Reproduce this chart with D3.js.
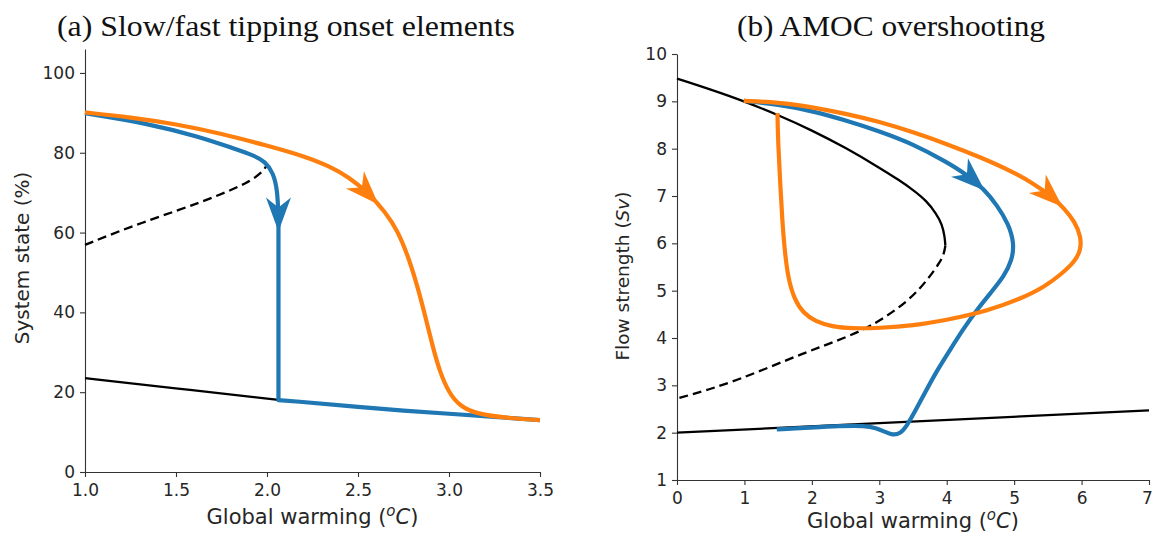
<!DOCTYPE html>
<html><head><meta charset="utf-8">
<script src="https://cdn.jsdelivr.net/npm/d3@7"></script>
<style>body{margin:0;background:#fff}svg{display:block}</style>
</head><body><svg id="c" width="1153" height="533"></svg>
<script>
// ---------- Panel (a): slow / fast tipping onset ----------
const aXTicks = [1.0, 1.5, 2.0, 2.5, 3.0, 3.5];
const aYTicks = [0, 20, 40, 60, 80, 100];
const aUpperBranch = [[1.0,90.0],[1.34,87.4],[1.63,84.0],[1.82,81.1],[1.93,79.2],[1.98,78.0],[2.0,76.9]];
const aUnstableBranch = [[1.0,56.9],[1.25,61.5],[1.52,65.7],[1.74,69.4],[1.89,72.4],[1.97,74.9],[2.0,76.9]];
const aLowerBranch = [[1.0,23.5],[1.5,21.0],[2.063,18.0],[2.18,17.6],[2.5,16.3],[2.75,15.4],[3.0,14.6],[3.25,13.8],[3.5,13.0]];
const aSlowCurved = [[1.0,89.9],[1.34,87.4],[1.63,84.0],[1.815,81.1],[1.925,79.4],[1.99,77.8],[2.035,74.9],[2.057,70.7],[2.063,64.0]];
const aSlowDrop = [[2.063,18.0],[2.18,17.6],[2.5,16.3],[2.75,15.4],[3.0,14.6],[3.25,13.8],[3.5,13.0]];
const aFast = [[1.0,90.1],[1.25,88.9],[1.5,87.2],[1.75,84.8],[2.0,81.8],[2.2,79.2],[2.35,76.5],[2.45,73.8],[2.55,70.2],[2.65,65.2],[2.72,60.3],[2.78,53.5],[2.83,46.0],[2.87,39.0],[2.91,31.5],[2.95,25.0],[3.0,19.8],[3.06,16.5],[3.15,14.6],[3.3,13.6],[3.5,13.0]];
const aSlowArrowTip = [2.063, 61.0];
const aFastArrowTip = [2.604, 67.7];

// ---------- Panel (b): AMOC overshooting ----------
const bXTicks = [0,1,2,3,4,5,6,7];
const bYTicks = [1,2,3,4,5,6,7,8,9,10];
const bUpperBranch = [[0,9.48],[0.5,9.25],[1.0,9.0],[1.5,8.71],[2.0,8.39],[2.5,8.02],[3.0,7.6],[3.3,7.33],[3.5,7.13],[3.7,6.9],[3.85,6.62],[3.93,6.4],[3.97,6.15],[3.98,5.95]];
const bUnstableBranch = [[3.98,5.95],[3.96,5.78],[3.9,5.6],[3.75,5.3],[3.6,5.04],[3.4,4.76],[3.1,4.45],[2.77,4.17],[2.3,3.9],[1.88,3.68],[1.4,3.4],[0.89,3.11],[0.45,2.9],[0,2.72]];
const bLowerBranch = [[0,2.0],[7,2.47]];
const bSlow = [[0.99,9.01],[1.5,8.93],[2.0,8.8],[2.5,8.6],[3.0,8.37],[3.5,8.1],[4.0,7.72],[4.3,7.45],[4.55,7.15],[4.75,6.8],[4.92,6.4],[5.0,6.0],[4.97,5.65],[4.85,5.3],[4.65,4.95],[4.45,4.6],[4.25,4.2],[4.05,3.75],[3.85,3.3],[3.68,2.85],[3.53,2.45],[3.4,2.12],[3.3,1.97],[3.2,1.95],[3.08,2.02],[2.95,2.1],[2.8,2.15],[2.4,2.14],[2.0,2.11],[1.48,2.07]];
const bFast = [[0.99,9.01],[1.5,8.98],[2.0,8.88],[2.5,8.74],[3.0,8.57],[3.5,8.35],[4.0,8.1],[4.5,7.82],[5.0,7.5],[5.3,7.25],[5.55,7.0],[5.75,6.73],[5.9,6.45],[5.99,6.15],[5.99,5.85],[5.89,5.6],[5.7,5.35],[5.45,5.08],[5.1,4.83],[4.6,4.57],[4.0,4.38],[3.5,4.26],[3.0,4.21],[2.6,4.2],[2.3,4.24],[2.05,4.35],[1.87,4.53],[1.74,4.82],[1.65,5.25],[1.6,5.8],[1.56,6.5],[1.53,7.3],[1.5,8.1],[1.49,8.75]];
const bSlowArrowTip = [4.54, 7.18];
const bFastArrowTip = [5.70, 6.84];

const titles = ["(a) Slow/fast tipping onset elements", "(b) AMOC overshooting"];

const BLUE = "#1f77b4", ORANGE = "#ff7f0e";
const svg = d3.select("#c");
const TICKFONT = "DejaVu Sans";

function styleAxis(g){
  g.select(".domain").attr("stroke","#333").attr("stroke-width",1.1);
  g.selectAll(".tick line").attr("stroke","#333").attr("stroke-width",1.1);
  g.selectAll(".tick text").attr("fill","#262626").attr("font-family",TICKFONT).attr("font-size",17);
}

function arrowAt(g, node, tip, color){
  const total = node.getTotalLength();
  let best = 0, bd = Infinity;
  for (let l = 0; l <= total; l += 0.5){
    const p = node.getPointAtLength(l);
    const d = (p.x-tip[0])**2 + (p.y-tip[1])**2;
    if (d < bd){ bd = d; best = l; }
  }
  const p1 = node.getPointAtLength(best), p0 = node.getPointAtLength(Math.max(0,best-10));
  const ang = Math.atan2(p1.y-p0.y, p1.x-p0.x)*180/Math.PI;
  g.append("path").attr("d","M3,0L-31,-12.5L-21,0L-31,12.5Z")
    .attr("transform",`translate(${p1.x},${p1.y}) rotate(${ang})`).attr("fill",color);
}

function xLabel(g, cx, y){
  const t = g.append("text").attr("x",cx).attr("y",y).attr("text-anchor","middle")
    .attr("font-family","DejaVu Sans").attr("font-size",21).attr("fill","#262626");
  t.append("tspan").text("Global warming (");
  t.append("tspan").attr("font-style","italic").attr("font-size",15).attr("dy",-8).text("o");
  t.append("tspan").attr("font-style","italic").attr("dy",8).text("C");
  t.append("tspan").text(")");
}

// ----- Panel A -----
const xA = d3.scaleLinear().domain([1.0,3.5]).range([85,540]);
const yA = d3.scaleLinear().domain([0,106]).range([472,49]);
const gA = svg.append("g");
const lineA = d3.line().x(d=>xA(d[0])).y(d=>yA(d[1])).curve(d3.curveBasis);

gA.append("g").attr("transform","translate(0,472)")
  .call(d3.axisBottom(xA).tickValues(aXTicks).tickFormat(d3.format(".1f")).tickSize(5).tickSizeOuter(0).tickPadding(7))
  .call(styleAxis);
gA.append("g").attr("transform","translate(85,0)")
  .call(d3.axisLeft(yA).tickValues(aYTicks).tickSize(5).tickSizeOuter(0).tickPadding(5))
  .call(styleAxis);

gA.append("path").attr("d",lineA(aLowerBranch)).attr("fill","none").attr("stroke","#000").attr("stroke-width",2.3);
gA.append("path").attr("d",lineA(aUpperBranch)).attr("fill","none").attr("stroke","#000").attr("stroke-width",2.3);
gA.append("path").attr("d",lineA(aUnstableBranch)).attr("fill","none").attr("stroke","#000").attr("stroke-width",2.3).attr("stroke-dasharray","9,5");
const slowPathA = gA.append("path")
  .attr("d", lineA(aSlowCurved) + aSlowDrop.map(d=>"L"+xA(d[0])+","+yA(d[1])).join(""))
  .attr("fill","none").attr("stroke",BLUE).attr("stroke-width",4.2).attr("stroke-linejoin","round");
const fastPathA = gA.append("path").attr("d",lineA(aFast)).attr("fill","none").attr("stroke",ORANGE).attr("stroke-width",4.2);
arrowAt(gA, slowPathA.node(), [xA(aSlowArrowTip[0]), yA(aSlowArrowTip[1])], BLUE);
arrowAt(gA, fastPathA.node(), [xA(aFastArrowTip[0]), yA(aFastArrowTip[1])], ORANGE);

gA.append("text").attr("transform","translate(29,258) rotate(-90)").attr("text-anchor","middle")
  .attr("font-family","DejaVu Sans").attr("font-size",20).attr("fill","#262626").text("System state (%)");
xLabel(gA, 312.5, 524);
gA.append("text").attr("x",286).attr("y",36).attr("text-anchor","middle")
  .attr("font-family","Liberation Serif").attr("font-size",29).attr("fill","#111")
  .attr("textLength",458).attr("lengthAdjust","spacingAndGlyphs").text(titles[0]);

// ----- Panel B -----
const xB = d3.scaleLinear().domain([0,7]).range([677,1149]);
const yB = d3.scaleLinear().domain([1,10]).range([480,54]);
const gB = svg.append("g");
const lineB = d3.line().x(d=>xB(d[0])).y(d=>yB(d[1])).curve(d3.curveBasis);

const bx = gB.append("g").attr("transform","translate(0,480)")
  .call(d3.axisBottom(xB).tickValues(bXTicks).tickFormat(d3.format("d")).tickSize(5).tickSizeOuter(0).tickPadding(7))
  .call(styleAxis);
bx.selectAll(".tick text").filter(d=>d===7).attr("dx",-2);
gB.append("g").attr("transform","translate(677,0)")
  .call(d3.axisLeft(yB).tickValues(bYTicks).tickFormat(d3.format("d")).tickSize(5).tickSizeOuter(0).tickPadding(5))
  .call(styleAxis);

gB.append("path").attr("d",lineB(bLowerBranch)).attr("fill","none").attr("stroke","#000").attr("stroke-width",2.3);
gB.append("path").attr("d",lineB(bUpperBranch)).attr("fill","none").attr("stroke","#000").attr("stroke-width",2.3);
gB.append("path").attr("d",lineB(bUnstableBranch)).attr("fill","none").attr("stroke","#000").attr("stroke-width",2.3).attr("stroke-dasharray","9,5");
const slowPathB = gB.append("path").attr("d",lineB(bSlow)).attr("fill","none").attr("stroke",BLUE).attr("stroke-width",4.2);
const fastPathB = gB.append("path").attr("d",lineB(bFast)).attr("fill","none").attr("stroke",ORANGE).attr("stroke-width",4.2);
arrowAt(gB, slowPathB.node(), [xB(bSlowArrowTip[0]), yB(bSlowArrowTip[1])], BLUE);
arrowAt(gB, fastPathB.node(), [xB(bFastArrowTip[0]), yB(bFastArrowTip[1])], ORANGE);

const yl = gB.append("text").attr("transform","translate(629,276) rotate(-90)").attr("text-anchor","middle")
  .attr("font-family","DejaVu Sans").attr("font-size",18.5).attr("fill","#262626");
yl.append("tspan").text("Flow strength (");
yl.append("tspan").attr("font-style","italic").text("Sv");
yl.append("tspan").text(")");
xLabel(gB, 913, 528);
gB.append("text").attr("x",891).attr("y",36).attr("text-anchor","middle")
  .attr("font-family","Liberation Serif").attr("font-size",29).attr("fill","#111")
  .attr("textLength",308).attr("lengthAdjust","spacingAndGlyphs").text(titles[1]);
</script></body></html>
